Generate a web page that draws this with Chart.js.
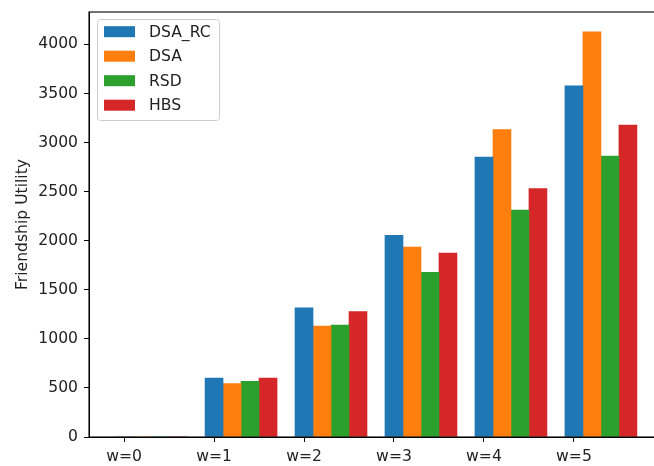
<!DOCTYPE html>
<html>
<head>
<meta charset="utf-8">
<script src="https://cdn.jsdelivr.net/npm/chart.js@4"></script>
<style>
  body { margin: 0; background: #fff; }
  #wrap { width: 654px; height: 466px; overflow: hidden; }
</style>
</head>
<body>
<div id="wrap"><canvas id="chart" width="670" height="466"></canvas></div>
<script>
const categories = ['w=0', 'w=1', 'w=2', 'w=3', 'w=4', 'w=5'];
const seriesNames = ['DSA_RC', 'DSA', 'RSD', 'HBS'];
const seriesColors = ['#1f77b4', '#ff7f0e', '#2ca02c', '#d62728'];
const dsaRc = [0, 600, 1316, 2054, 2851, 3579];
const dsa = [0, 543, 1129, 1936, 3132, 4128];
const rsd = [0, 566, 1139, 1678, 2312, 2861];
const hbs = [0, 600, 1278, 1875, 2532, 3179];
const yTicks = [0, 500, 1000, 1500, 2000, 2500, 3000, 3500, 4000];

const seriesValues = [dsaRc, dsa, rsd, hbs];
const barStep = 0.2;   // each bar takes a fifth of a category

const font = { family: 'DejaVu Sans', size: 15.6 };

// draws the box around the plot (top and right spines)
const framePlugin = {
    id: 'frame',
    afterDraw(chart) {
        const a = chart.chartArea;
        const ctx = chart.ctx;
        ctx.save();
        ctx.strokeStyle = '#000';
        ctx.lineWidth = 1.1;
        ctx.strokeRect(a.left, a.top, a.right - a.left, a.bottom - a.top);
        ctx.restore();
    }
};

// matplotlib style legend in the upper left corner
const boxLegend = {
    id: 'boxLegend',
    afterDraw(chart) {
        const a = chart.chartArea;
        const ctx = chart.ctx;
        const x0 = a.left + 8, y0 = a.top + 7, w = 122, h = 101;
        ctx.save();
        ctx.fillStyle = 'rgba(255,255,255,0.8)';
        ctx.strokeStyle = '#cccccc';
        ctx.lineWidth = 1;
        ctx.beginPath();
        ctx.roundRect(x0 + 0.5, y0 + 0.5, w, h, 3);
        ctx.fill();
        ctx.stroke();
        ctx.font = font.size + 'px ' + font.family;
        ctx.textBaseline = 'middle';
        chart.data.datasets.forEach((ds, i) => {
            const cy = y0 + 12.7 + i * 24.5;
            ctx.fillStyle = ds.backgroundColor;
            ctx.fillRect(x0 + 7, cy - 5.5, 31, 11);
            ctx.fillStyle = '#222';
            ctx.fillText(ds.label, x0 + 52, cy + 1);
        });
        ctx.restore();
    }
};

const datasets = seriesNames.map((name, k) => ({
    label: name,
    data: categories.map((c, i) => ({ x: i + k * barStep, y: seriesValues[k][i] })),
    backgroundColor: seriesColors[k],
    borderWidth: 0,
    grouped: false,
    categoryPercentage: 1,
    barPercentage: 1
}));

const config = {
    type: 'bar',
    data: { datasets: datasets },
    options: {
        responsive: false,
        animation: false,
        devicePixelRatio: 1,
        layout: { padding: { left: 0, top: 12, right: 7, bottom: 0 } },
        plugins: {
            legend: { display: false },
            tooltip: { enabled: false }
        },
        scales: {
            x: {
                type: 'linear',
                min: -0.39,
                max: 5.99,
                offset: false,
                afterFit(scale) {
                    scale.height = 29;
                    scale.paddingLeft = 0;
                    scale.paddingRight = 0;
                },
                afterBuildTicks(scale) {
                    scale.ticks = categories.map((c, i) => ({ value: i }));
                },
                ticks: {
                    color: '#222',
                    font: font,
                    padding: 6,
                    maxRotation: 0,
                    autoSkip: false,
                    callback: (v) => categories[v]
                },
                grid: {
                    display: true,
                    offset: false,
                    drawOnChartArea: false,
                    drawTicks: true,
                    tickLength: 5,
                    color: '#000'
                },
                border: { display: true, color: '#000', width: 1 }
            },
            y: {
                min: 0,
                max: 4330,
                afterFit(scale) {
                    scale.width = 89;
                    scale.paddingTop = 0;
                    scale.paddingBottom = 0;
                },
                afterBuildTicks(scale) {
                    scale.ticks = yTicks.map(v => ({ value: v }));
                },
                ticks: { color: '#222', font: font, padding: 6, callback: (v) => String(v) },
                grid: {
                    display: true,
                    drawOnChartArea: false,
                    drawTicks: true,
                    tickLength: 5,
                    color: '#000'
                },
                border: { display: true, color: '#000', width: 1 },
                title: {
                    display: true,
                    text: 'Friendship Utility',
                    color: '#222',
                    font: font,
                    padding: { top: 14, bottom: 0 }
                }
            }
        }
    },
    plugins: [framePlugin, boxLegend]
};

new Chart(document.getElementById('chart').getContext('2d'), config);
</script>
</body>
</html>
